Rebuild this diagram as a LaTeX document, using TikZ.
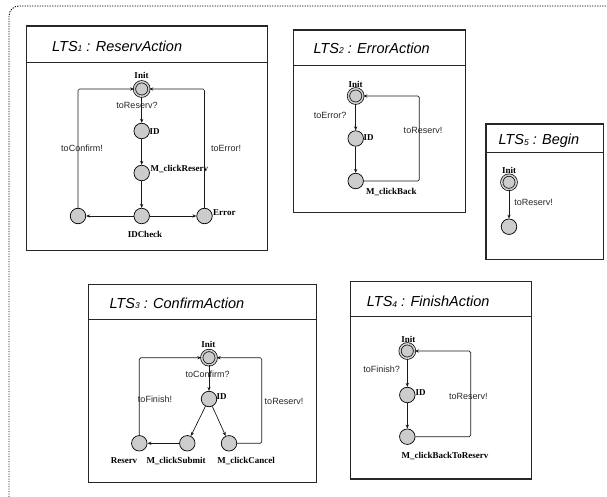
\documentclass[tikz,border=0pt]{standalone}
\usepackage{fontspec}
\setmainfont{Liberation Serif}
\setsansfont{Liberation Sans}
\usetikzlibrary{arrows.meta}
\newcommand{\ltsnum}[1]{\raisebox{-0.3pt}{\fontsize{8.5}{8.5}\selectfont #1}}
\begin{document}
\begin{tikzpicture}[x=1pt,y=-1pt,
  box/.style={draw=black!85,line width=1.1pt},
  divline/.style={draw=black!85,line width=0.9pt},
  ttl/.style={anchor=west,inner sep=0pt,font=\sffamily\itshape\fontsize{14.5}{15}\selectfont},
  st/.style={circle,draw=black,line width=0.7pt,fill=black!20,minimum size=15.5pt,inner sep=0pt},
  initst/.style={circle,draw=black,line width=0.7pt,fill=black!20,minimum size=14.5pt,inner sep=0pt,double=black!20,double distance=1.6pt},
  nlab/.style={inner sep=0pt,font=\bfseries\fontsize{9}{9}\selectfont},
  elab/.style={inner sep=0pt,font=\sffamily\fontsize{9}{9}\selectfont,text=black!85},
  tr/.style={-{Stealth[length=4pt,width=3.2pt]},line width=0.7pt,draw=black!90,rounded corners=1.5pt},
  frame/.style={draw=black,line width=0.9pt,dash pattern=on 1.2pt off 1.3pt,rounded corners=10pt}]
\useasboundingbox (0,0) rectangle (607,497);
\begin{scope}
\clip (0,0) rectangle (607,497);
\draw[frame] (9,6) rectangle (630,510);
\end{scope}

% ---------- LTS1 ----------
\draw[box] (26.5,26) rectangle (267.5,250.5);
\draw[divline] (26.5,62.5) -- (267.5,62.5);
\node[ttl] (t1) at (52,46.5) {LTS\ltsnum{1} : ReservAction};
\node[initst] (i1) at (141.7,89) {};
\node[st] (a1) at (141.7,131) {};
\node[st] (b1) at (141.7,173) {};
\node[st] (c1) at (141.7,216) {};
\node[st] (l1) at (78,216) {};
\node[st] (e1) at (204.5,216) {};
\node[nlab] (li1) at (141.5,75.5) {Init};
\node[nlab,anchor=west] (la1) at (149.5,132) {ID};
\node[nlab,anchor=west] (lb1) at (150.5,169) {M\_clickReserv};
\node[nlab] (lc1) at (145,234) {IDCheck};
\node[nlab,anchor=west] (le1) at (213,212.5) {Error};
\node[elab] (x11) at (137,105) {toReserv?};
\node[elab] (x12) at (82,148) {toConfirm!};
\node[elab] (x13) at (226,148) {toError!};
\draw[tr] (i1) -- (a1);
\draw[tr] (a1) -- (b1);
\draw[tr] (b1) -- (c1);
\draw[tr] (c1) -- (l1);
\draw[tr] (c1) -- (e1);
\draw[tr] (l1) |- (i1);
\draw[tr] (e1) |- (i1);

% ---------- LTS2 ----------
\draw[box] (293.5,30) rectangle (465.5,212.3);
\draw[divline] (293.5,65) -- (465.5,65);
\node[ttl] (t2) at (313.3,48) {LTS\ltsnum{2} : ErrorAction};
\node[initst] (i2) at (355.7,96) {};
\node[st] (a2) at (355.7,138.5) {};
\node[st] (b2) at (355.7,181) {};
\coordinate (k2) at (419.3,96);
\node[nlab] (li2) at (355.7,84) {Init};
\node[nlab,anchor=west] (la2) at (363.5,137.5) {ID};
\node[nlab,anchor=west] (lb2) at (366,192) {M\_clickBack};
\node[elab] (x21) at (330,115) {toError?};
\node[elab] (x22) at (423,130) {toReserv!};
\draw[tr] (i2) -- (a2);
\draw[tr] (a2) -- (b2);
\draw[tr] (b2) -| (k2) -- (i2);

% ---------- LTS5 ----------
\draw[box] (486,124) rectangle (603.3,259.3);
\draw[divline] (486,152.7) -- (603.3,152.7);
\node[ttl] (t5) at (498.3,141) {LTS\ltsnum{5} : Begin};
\node[initst] (i5) at (509,182.3) {};
\node[st] (a5) at (509,226.7) {};
\node[nlab] (li5) at (509,170.5) {Init};
\node[elab] (x51) at (533.5,202.7) {toReserv!};
\draw[tr] (i5) -- (a5);

% ---------- LTS3 ----------
\draw[box] (88.3,284.5) rectangle (316.7,482.3);
\draw[divline] (88.3,319) -- (316.7,319);
\node[ttl] (t3) at (109.3,303.3) {LTS\ltsnum{3} : ConfirmAction};
\node[initst] (i3) at (209,357.7) {};
\node[st] (a3) at (209,399) {};
\node[st] (s3) at (187.3,443.3) {};
\node[st] (c3) at (229,443.3) {};
\node[st] (r3) at (139.3,443.3) {};
\coordinate (k3) at (261.7,357.7);
\node[nlab] (li3) at (208.3,344) {Init};
\node[nlab,anchor=west] (la3) at (216.5,396.5) {ID};
\node[nlab] (ls3) at (176,461) {M\_clickSubmit};
\node[nlab] (lc3) at (246,461) {M\_clickCancel};
\node[nlab] (lr3) at (124,461) {Reserv};
\node[elab] (x31) at (207.7,374) {toConfirm?};
\node[elab] (x32) at (155,399) {toFinish!};
\node[elab] (x33) at (284,401) {toReserv!};
\draw[tr] (i3) -- (a3);
\draw[tr] (a3) -- (s3);
\draw[tr] (a3) -- (c3);
\draw[tr] (s3) -- (r3);
\draw[tr] (r3) |- (i3);
\draw[tr] (c3) -| (k3) -- (i3);

% ---------- LTS4 ----------
\draw[box] (350.4,281.7) rectangle (531.2,479);
\draw[divline] (350.4,316.7) -- (531.2,316.7);
\node[ttl] (t4) at (366.7,301.7) {LTS\ltsnum{4} : FinishAction};
\node[initst] (i4) at (407.3,351) {};
\node[st] (a4) at (407.3,395) {};
\node[st] (b4) at (407.3,436.7) {};
\coordinate (k4) at (470.7,351);
\node[nlab] (li4) at (408.3,339.3) {Init};
\node[nlab,anchor=west] (la4) at (415.5,393) {ID};
\node[nlab] (lb4) at (445,455.7) {M\_clickBackToReserv};
\node[elab] (x41) at (381.7,369.3) {toFinish?};
\node[elab] (x42) at (468.3,396.7) {toReserv!};
\draw[tr] (i4) -- (a4);
\draw[tr] (a4) -- (b4);
\draw[tr] (b4) -| (k4) -- (i4);
\end{tikzpicture}
\end{document}
